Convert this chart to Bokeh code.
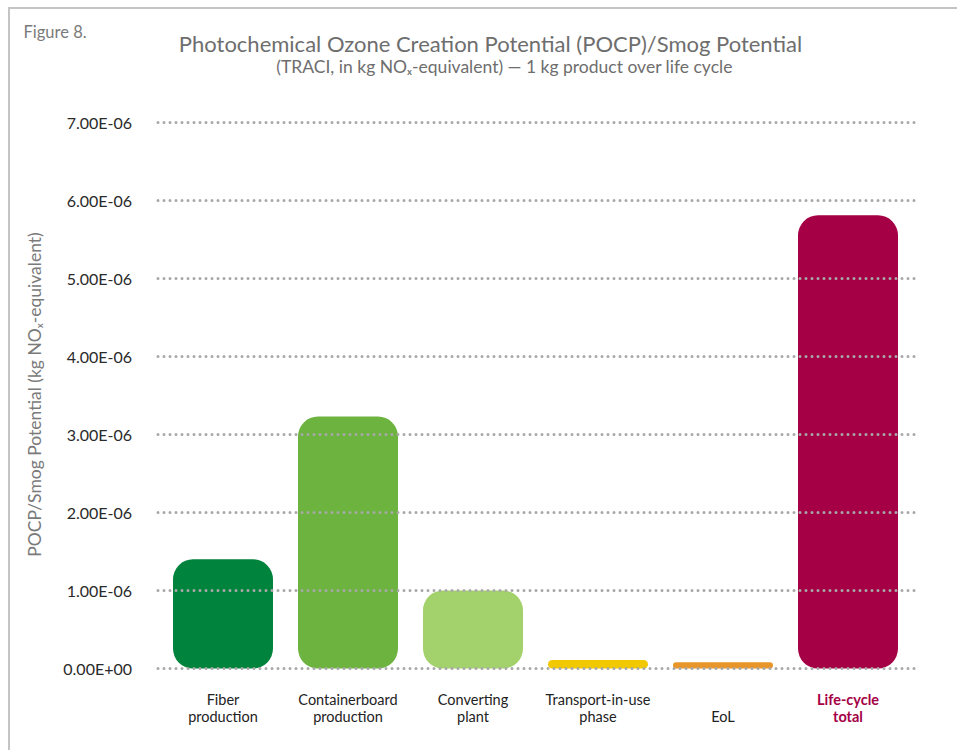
import math
import numpy as np
from bokeh.plotting import figure
from bokeh.models import Label, ColumnDataSource, Range1d
from bokeh.core.properties import value
from bokeh.embed import file_html
from bokeh.resources import INLINE

# ---- data ----
categories = ["Fiber production", "Containerboard production", "Converting plant",
              "Transport-in-use phase", "EoL", "Life-cycle total"]
cat_labels = ["Fiber\nproduction", "Containerboard\nproduction", "Converting\nplant",
              "Transport-in-use\nphase", "EoL", "Life-cycle\ntotal"]
pocp = [1.40e-6, 3.23e-6, 1.00e-6, 0.11e-6, 0.08e-6, 5.81e-6]
bar_colors = ["#00843D", "#6DB33F", "#A3D16B", "#F2C800", "#E8962A", "#A50045"]
label_colors = ["#222222"] * 5 + ["#A50045"]
label_styles = ["normal"] * 5 + ["bold"]
tick_values = [0.0, 1e-6, 2e-6, 3e-6, 4e-6, 5e-6, 6e-6, 7e-6]
tick_labels = ["0.00E+00", "1.00E-06", "2.00E-06", "3.00E-06",
               "4.00E-06", "5.00E-06", "6.00E-06", "7.00E-06"]

FONT = "Lato"
W, H = 949, 743

xpos = np.arange(len(categories))          # category slots on a numeric scale
src = ColumnDataSource(dict(x=xpos, lab=cat_labels, val=pocp, color=bar_colors,
                            lcolor=label_colors, lstyle=label_styles))

p = figure(width=W, height=H, x_range=Range1d(-1.7, 5.892),
           y_range=Range1d(-1.077e-6, 8.449e-6), output_backend="svg",
           toolbar_location=None, x_axis_location=None, y_axis_location=None,
           min_border=0)
p.outline_line_color = None
p.xgrid.visible = False
p.ygrid.visible = False
p.styles = {"margin-left": "8px", "margin-top": "7px",
            "border-left": "2px solid #c4c4c4", "border-top": "2px solid #c4c4c4"}

# bars
p.vbar(x="x", top="val", bottom=0, width=0.8, color="color", line_color=None,
       border_radius=20, source=src)

# dotted gridlines drawn over the bars
gx0, gx1 = xpos[0] - 0.52, xpos[-1] + 0.55
p.segment(x0=gx0, x1=gx1, y0=tick_values, y1=tick_values, line_color="#a8a8a8",
          line_width=3, line_dash="0 6", line_cap="round")

# y tick labels
p.text(x=gx0, y=tick_values, text=tick_labels, x_offset=-26, text_align="right",
       text_baseline="middle", text_font=value(FONT), text_font_size="16px",
       text_color="#2a2a2a")

# category labels
p.text(x="x", y=0, text="lab", source=src, y_offset=57, text_align="center",
       text_baseline="bottom", text_font=value(FONT), text_font_size="14.5px",
       text_color="lcolor", text_font_style="lstyle", text_line_height=1.0)

p.add_layout(Label(x=24, y=H - 385, x_units="screen", y_units="screen", angle=math.pi / 2,
                   text="POCP/Smog Potential (kg NO\u2093-equivalent)", text_align="center",
                   text_baseline="middle", text_font=FONT, text_font_size="17.5px",
                   text_color="#7a7a7a"))
p.add_layout(Label(x=480, y=H - 34, x_units="screen", y_units="screen",
                   text="Photochemical Ozone Creation Potential (POCP)/Smog Potential",
                   text_align="center", text_baseline="middle", text_font=FONT,
                   text_font_size="22px", text_color="#6e6e6e"))
p.add_layout(Label(x=494, y=H - 57, x_units="screen", y_units="screen",
                   text="(TRACI, in kg NO\u2093-equivalent) \u2014 1 kg product over life cycle",
                   text_align="center", text_baseline="middle", text_font=FONT,
                   text_font_size="17.5px", text_color="#6e6e6e"))
p.add_layout(Label(x=13, y=H - 22, x_units="screen", y_units="screen", text="Figure 8.",
                   text_align="left", text_baseline="middle", text_font=FONT,
                   text_font_size="16.5px", text_color="#7a7a7a"))

open("out.html", "w").write(file_html(p, INLINE))
